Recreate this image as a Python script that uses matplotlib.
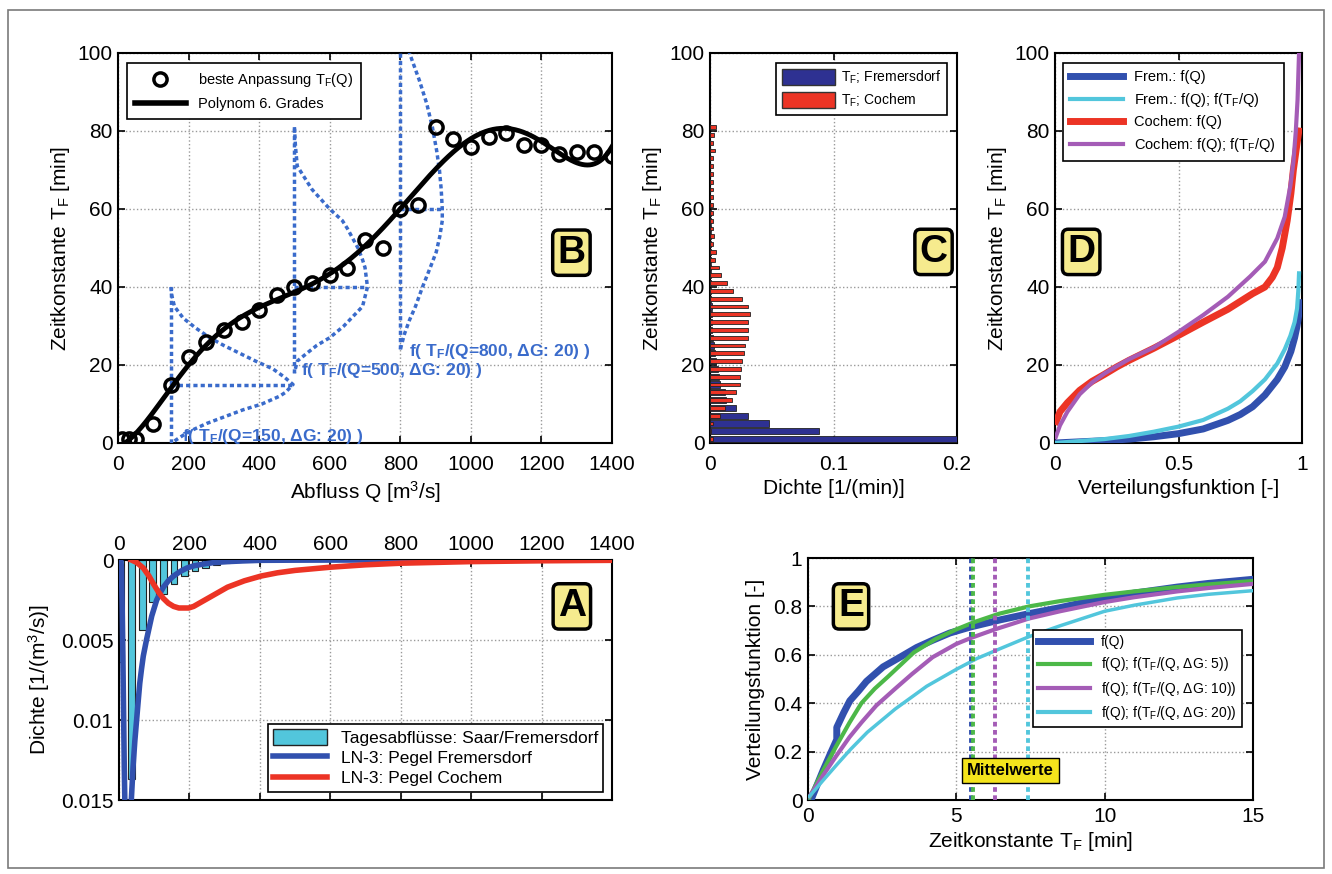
import numpy as np
import matplotlib
matplotlib.use("Agg")
import matplotlib.pyplot as plt
from matplotlib.patches import Patch, Rectangle
from matplotlib.lines import Line2D

plt.rcParams['font.family'] = ['Liberation Sans', 'DejaVu Sans']
plt.rcParams['mathtext.fontset'] = 'custom'
plt.rcParams['mathtext.rm'] = 'Liberation Sans'
plt.rcParams['mathtext.it'] = 'Liberation Sans:italic'
plt.rcParams['mathtext.bf'] = 'Liberation Sans:bold'
plt.rcParams['mathtext.default'] = 'regular'

# ---------------- Panel B data ----------------
q_points = [10, 30, 50, 100, 150, 200, 250, 300, 350, 400, 450, 500, 550, 600, 650, 700, 750,
            800, 850, 900, 950, 1000, 1050, 1100, 1150, 1200, 1250, 1300, 1350, 1400]
tf_points = [1, 1, 1, 5, 15, 22, 26, 29, 31, 34, 38, 40, 41, 43, 45, 52, 50,
             60, 61, 81, 78, 76, 78.5, 79.5, 76.5, 76.5, 74, 74.5, 74.5, 73.5]

dist150_tf = [40, 38, 35, 32, 29.5, 27, 25, 23, 21, 19, 17, 15, 13, 12, 10, 8.5, 7, 5, 3.5, 2, 1, 0]
dist150_dq = [0, 2, 10, 35, 70, 110, 150, 195, 240, 289, 320, 346, 325, 308, 258, 204, 160, 101, 65, 35, 18, 2]
dist500_tf = [81, 76, 71, 65, 60, 57, 55, 50, 47, 45, 40, 35, 30, 27, 25, 23, 21, 18]
dist500_dq = [0, 3, 8, 50, 100, 136, 150, 180, 193, 200, 207, 193, 140, 100, 63, 35, 8, 0]
dist800_tf = [110, 100, 93, 87, 81, 75, 70, 65, 60, 57, 53, 49, 45, 40, 35, 31.5, 28, 25, 24]
dist800_dq = [8, 26, 54, 75, 91, 103, 111, 116, 119, 119, 112, 102, 85, 63, 43, 26, 12, 3, 0]
dist_bases = [150, 500, 800]
dist_labels = [r'f( T$_\mathbf{F}$/(Q=150, ΔG: 20) )',
               r'f( T$_\mathbf{F}$/(Q=500, ΔG: 20) )',
               r'f( T$_\mathbf{F}$/(Q=800, ΔG: 20) )']
dist_label_pos = [(180, 0.5), (519, 17.4), (826, 22.3)]

# ---------------- Panel C data ----------------
c_bins = list(range(1, 83, 2))
c_frem = [0.25, 0.088, 0.048, 0.031, 0.021, 0.013, 0.012, 0.008, 0.0075, 0.0065, 0.005, 0.004,
          0.003, 0.0025, 0.002, 0.002, 0.0015, 0.0015, 0.001, 0.001, 0.001, 0.0008, 0.0008,
          0.0007, 0.0006, 0.0006, 0.0005, 0.0005, 0.0005, 0.0005, 0.0004, 0.0004, 0.0004,
          0.0004, 0.0003, 0.0003, 0.0003, 0.0003, 0.0003, 0.0003, 0.0002]
c_coch = [0.0027, 0.001, 0.0027, 0.008, 0.012, 0.0176, 0.021, 0.024, 0.024, 0.025, 0.026,
          0.0275, 0.028, 0.031, 0.031, 0.031, 0.0324, 0.031, 0.026, 0.019, 0.0135, 0.0089,
          0.0076, 0.004, 0.005, 0.0027, 0.0035, 0.0027, 0.0027, 0.0022, 0.0024, 0.0022,
          0.0022, 0.0022, 0.0022, 0.0027, 0.0022, 0.004, 0.0022, 0.0035, 0.0046]

# ---------------- Panel D data ----------------
d_frem_p = [0, 0.1, 0.2, 0.3, 0.4, 0.5, 0.6, 0.7, 0.75, 0.8, 0.85, 0.9, 0.93, 0.955, 0.97, 0.98, 0.987, 0.993]
d_frem_t = [0, 0.3, 0.6, 1.0, 1.6, 2.4, 3.6, 5.8, 7.3, 9.3, 12.3, 16.3, 19.5, 23.5, 27, 30, 33, 36]
d_fremg_p = [0, 0.1, 0.2, 0.3, 0.4, 0.5, 0.6, 0.7, 0.75, 0.8, 0.85, 0.9, 0.93, 0.953, 0.97, 0.98, 0.985, 0.988]
d_fremg_t = [0, 0.5, 1.0, 1.8, 2.9, 4.2, 5.9, 8.8, 10.7, 13.3, 16.3, 20.4, 24, 27.5, 31, 34.5, 39, 43.5]
d_coch_p = [0.005, 0.02, 0.05, 0.1, 0.15, 0.2, 0.25, 0.3, 0.4, 0.5, 0.6, 0.7, 0.75, 0.8, 0.85,
            0.88, 0.9, 0.92, 0.94, 0.955, 0.965, 0.978, 0.987]
d_coch_t = [5.5, 8, 10.3, 13.5, 15.8, 17.6, 19.5, 21.2, 24.3, 27.6, 31, 34.3, 36.3, 38.3, 40,
            42.5, 45, 50, 57, 64, 70, 76, 80]
d_cochg_p = [0.003, 0.02, 0.05, 0.1, 0.15, 0.2, 0.25, 0.3, 0.4, 0.5, 0.6, 0.7, 0.79, 0.85, 0.9,
             0.93, 0.953, 0.965, 0.975, 0.982, 0.988]
d_cochg_t = [1.5, 4.5, 8, 12.5, 15.5, 17.8, 19.7, 21.5, 24.5, 28.5, 32.8, 37.5, 42.7, 46.5, 52.5,
             58, 66, 72, 80, 88, 100]

# ---------------- Panel A data ----------------
a_hist_q = [6, 36, 66, 96, 126, 156, 186, 216, 246, 276, 306, 336, 366, 396]
a_hist_d = [0.0064, 0.0137, 0.0044, 0.0026, 0.0021, 0.0015, 0.0010, 0.0007, 0.0005,
            0.0003, 0.00018, 0.0001, 0.00006, 0.00003]
a_frem_q = [0, 5, 7, 9, 11, 13, 15, 16.5, 19, 22, 25, 28, 31, 35, 40, 45, 50, 55, 59, 64, 69,
            78, 86, 93, 100, 107, 116, 126, 140, 155, 175, 193, 215, 241, 270, 308, 350, 404,
            500, 700, 1000, 1400]
a_frem_d = [0, 0, 0.0005, 0.003, 0.006, 0.0095, 0.013, 0.015, 0.018, 0.0195, 0.0195, 0.018,
            0.0165, 0.015, 0.0129, 0.0113, 0.010, 0.0087, 0.0077, 0.0068, 0.006, 0.005, 0.0042,
            0.0035, 0.003, 0.0025, 0.0021, 0.0017, 0.0013, 0.001, 0.0007, 0.0005, 0.00035,
            0.00025, 0.00016, 0.0001, 0.00006, 0.00002, 0.00001, 0, 0, 0]
a_coch_q = [35, 50, 69, 85, 98, 112, 126, 140, 155, 170, 184, 198, 212, 236, 260, 284, 308,
            332, 356, 404, 450, 500, 600, 700, 800, 1000, 1200, 1400]
a_coch_d = [0, 0.00015, 0.0005, 0.001, 0.0015, 0.002, 0.0024, 0.0027, 0.0029, 0.003, 0.003,
            0.003, 0.0029, 0.0026, 0.0023, 0.002, 0.0017, 0.0015, 0.0013, 0.001, 0.0008,
            0.00065, 0.00045, 0.0003, 0.0002, 0.0001, 0.00005, 0.00002]

# ---------------- Panel E data ----------------
e_q_x = [0.1, 0.3, 0.5, 0.75, 0.97, 0.97, 1.2, 1.41, 1.7, 1.97, 2.53, 3.1, 3.66, 4.2, 4.78,
         5.48, 6.5, 7.45, 8.5, 10, 11, 12.45, 13.5, 15]
e_q_y = [0, 0.06, 0.12, 0.19, 0.25, 0.30, 0.36, 0.41, 0.45, 0.49, 0.55, 0.59, 0.63, 0.66,
         0.69, 0.715, 0.745, 0.77, 0.795, 0.835, 0.855, 0.88, 0.895, 0.912]
e_g5_x = [0.05, 0.5, 0.94, 1.4, 1.8, 2.25, 2.7, 3.57, 4.3, 5, 5.6, 6.45, 7.45, 8.5, 10, 11,
          12.45, 13.5, 15]
e_g5_y = [0.01, 0.12, 0.22, 0.32, 0.40, 0.46, 0.51, 0.61, 0.665, 0.705, 0.735, 0.77, 0.80,
          0.822, 0.848, 0.862, 0.88, 0.891, 0.905]
e_g10_x = [0.05, 0.5, 0.94, 1.4, 1.8, 2.3, 2.94, 3.5, 4.2, 5, 5.5, 6.3, 7.45, 8.5, 10, 11,
           12.45, 13.5, 15]
e_g10_y = [0.015, 0.1, 0.18, 0.26, 0.32, 0.39, 0.46, 0.52, 0.59, 0.645, 0.67, 0.705, 0.75,
           0.78, 0.818, 0.838, 0.862, 0.876, 0.893]
e_g20_x = [0.05, 0.5, 1, 1.44, 2, 2.94, 4, 5, 5.7, 6.45, 7.45, 8.5, 10, 11, 12.45, 13.5, 15]
e_g20_y = [0.015, 0.08, 0.15, 0.21, 0.28, 0.376, 0.47, 0.54, 0.585, 0.624, 0.675, 0.72, 0.78,
           0.805, 0.835, 0.85, 0.865]
e_means = [5.48, 5.57, 6.3, 7.43]

# ---------------- Styling ----------------
C_NAVY = '#2e3192'
C_RED = '#ec3425'
C_BLUE = '#3150ae'
C_CYAN = '#52c6dc'
C_PURPLE = '#a45cb6'
C_GREEN = '#4cb848'
C_DIST = '#3a6bcb'
C_YEL = '#f6eb8e'
FS = 15

fig = plt.figure(figsize=(13.32, 8.74), dpi=100)
W, H = 1332.0, 874.0


def add_ax(x0, x1, y0, y1):
    return fig.add_axes([x0 / W, 1 - y1 / H, (x1 - x0) / W, (y1 - y0) / H])


def style(ax, xpad=9):
    ax.grid(True, linestyle=':', color='#9a9a9a', linewidth=1.0)
    ax.set_axisbelow(True)
    for s in ax.spines.values():
        s.set_linewidth(1.5)
    ax.tick_params(direction='in', top=True, right=True, length=5, width=1.2,
                   labelsize=FS, pad=4)
    ax.tick_params(axis='x', pad=xpad)


def label_box(ax, x, y, s):
    ax.text(x, y, s, fontsize=28, fontweight='bold', ha='center', va='center', zorder=20,
            bbox=dict(boxstyle='round,pad=0.12,rounding_size=0.15', fc=C_YEL, ec='black', lw=2.5))


def leg(ax, handles, labels, fs, **kw):
    lg = ax.legend(handles, labels, fontsize=fs, frameon=True, fancybox=False, framealpha=1,
                   edgecolor='black', borderaxespad=0, **kw)
    lg.get_frame().set_linewidth(1.2)
    lg.set_zorder(30)
    return lg


# ---------------- Panel B ----------------
axB = add_ax(118, 612, 53, 443)
style(axB)
coef = np.polyfit(np.array(q_points) / 1000.0, tf_points, 6)
qq = np.linspace(0, 1400, 400)
axB.plot(qq, np.polyval(coef, qq / 1000.0), color='black', lw=3.5, zorder=4)
axB.plot(q_points, tf_points, 'o', mfc='none', mec='black', mew=2.5, ms=9.5, zorder=5)
for base, dtf, ddq, lab, pos in zip(dist_bases, [dist150_tf, dist500_tf, dist800_tf],
                                    [dist150_dq, dist500_dq, dist800_dq], dist_labels,
                                    dist_label_pos):
    dq = np.array(ddq)
    tf = np.array(dtf)
    axB.plot(base + dq, tf, color=C_DIST, ls=(0, (1.2, 0.9)), lw=2.5, zorder=3)
    axB.plot([base, base], [min(tf), max(tf)], color=C_DIST, ls=(0, (1.2, 0.9)), lw=2.5, zorder=3)
    imax = int(np.argmax(dq))
    axB.plot([base, base + dq[imax]], [tf[imax], tf[imax]], color=C_DIST, ls=(0, (1.2, 0.9)),
             lw=2.5, zorder=3)
    axB.text(pos[0], pos[1], lab, color=C_DIST, fontsize=12.5, fontweight='bold',
             ha='left', va='baseline', zorder=6)
axB.set_xlim(0, 1400)
axB.set_ylim(0, 100)
axB.set_xticks(range(0, 1401, 200))
axB.set_yticks(range(0, 101, 20))
axB.set_xlabel('Abfluss Q [m$^3$/s]', fontsize=FS, labelpad=3)
axB.set_ylabel('Zeitkonstante T$_F$ [min]', fontsize=FS, labelpad=4)
label_box(axB, 1285, 48.8, 'B')
hB = [Line2D([], [], ls='none', marker='o', mfc='none', mec='black', mew=2.5, ms=9.5),
      Line2D([], [], color='black', lw=4)]
leg(axB, hB, ['beste Anpassung T$_F$(Q)', 'Polynom 6. Grades'], 10.5,
    loc='upper left', bbox_to_anchor=(0.018, 0.975), handlelength=3.5, borderpad=0.55,
    labelspacing=0.55)

# ---------------- Panel C ----------------
axC = add_ax(710, 957, 53, 443)
style(axC)
axC.barh(c_bins, c_frem, height=1.6, color=C_NAVY, edgecolor='#222222', lw=0.6, zorder=3)
axC.barh(c_bins, c_coch, height=1.0, color=C_RED, edgecolor='#222222', lw=0.6, zorder=4)
axC.set_xlim(0, 0.2)
axC.set_ylim(0, 100)
axC.set_xticks([0, 0.1, 0.2])
axC.set_xticklabels(['0', '0.1', '0.2'])
axC.set_yticks(range(0, 101, 20))
axC.set_xlabel('Dichte [1/(min)]', fontsize=FS, labelpad=3)
axC.set_ylabel('Zeitkonstante T$_F$ [min]', fontsize=FS, labelpad=4)
label_box(axC, 0.181, 49, 'C')
hC = [Patch(fc=C_NAVY, ec='#333333'), Patch(fc=C_RED, ec='#333333')]
leg(axC, hC, ['T$_F$; Fremersdorf', 'T$_F$; Cochem'], 10,
    loc='upper right', bbox_to_anchor=(0.96, 0.975), handlelength=3.8, handleheight=1.4,
    borderpad=0.45, labelspacing=0.35, handletextpad=0.4)

# ---------------- Panel D ----------------
axD = add_ax(1055, 1302, 53, 443)
style(axD)
axD.plot(d_frem_p, d_frem_t, color=C_BLUE, lw=5, zorder=3)
axD.plot(d_fremg_p, d_fremg_t, color=C_CYAN, lw=3, zorder=4)
axD.plot(d_coch_p, d_coch_t, color=C_RED, lw=5, zorder=3)
axD.plot(d_cochg_p, d_cochg_t, color=C_PURPLE, lw=3, zorder=4)
axD.set_xlim(0, 1)
axD.set_ylim(0, 100)
axD.set_xticks([0, 0.5, 1])
axD.set_xticklabels(['0', '0.5', '1'])
axD.set_yticks(range(0, 101, 20))
axD.set_xlabel('Verteilungsfunktion [-]', fontsize=FS, labelpad=3)
axD.set_ylabel('Zeitkonstante T$_F$ [min]', fontsize=FS, labelpad=4)
label_box(axD, 0.106, 49, 'D')
hD = [Line2D([], [], color=C_BLUE, lw=5), Line2D([], [], color=C_CYAN, lw=3),
      Line2D([], [], color=C_RED, lw=5), Line2D([], [], color=C_PURPLE, lw=3)]
leg(axD, hD, ['Frem.: f(Q)', 'Frem.: f(Q); f(T$_F$/Q)', 'Cochem: f(Q)',
              'Cochem: f(Q); f(T$_F$/Q)'], 10.5,
    loc='upper left', bbox_to_anchor=(0.032, 0.975), handlelength=3.6, borderpad=0.5,
    labelspacing=0.45)

# ---------------- Panel A ----------------
axA = add_ax(119, 612, 560, 800)
style(axA, xpad=4)
axA.bar(a_hist_q, a_hist_d, width=19, color=C_CYAN, edgecolor='#222222', lw=0.8, zorder=2)
axA.plot(a_frem_q, a_frem_d, color=C_BLUE, lw=4, zorder=4)
axA.plot(a_coch_q, a_coch_d, color=C_RED, lw=4, zorder=4)
axA.set_xlim(0, 1400)
axA.set_ylim(0.015, 0)
axA.set_xticks(range(0, 1401, 200))
axA.set_yticks([0, 0.005, 0.01, 0.015])
axA.set_yticklabels(['0', '0.005', '0.01', '0.015'])
axA.tick_params(labeltop=True, labelbottom=False)
axA.set_ylabel('Dichte [1/(m$^3$/s)]', fontsize=FS, labelpad=6)
label_box(axA, 1286, 0.0029, 'A')
hA = [Patch(fc=C_CYAN, ec='#222222'), Line2D([], [], color=C_BLUE, lw=4),
      Line2D([], [], color=C_RED, lw=4)]
leg(axA, hA, ['Tagesabflüsse: Saar/Fremersdorf', 'LN-3: Pegel Fremersdorf',
              'LN-3: Pegel Cochem'], 12.5,
    loc='lower right', bbox_to_anchor=(0.982, 0.035), handlelength=3.1, handleheight=1.0,
    borderpad=0.3, labelspacing=0.2)

# ---------------- Panel E ----------------
axE = add_ax(808, 1253, 558, 800)
style(axE, xpad=5)
axE.plot(e_q_x, e_q_y, color=C_BLUE, lw=5, zorder=3)
axE.plot(e_g5_x, e_g5_y, color=C_GREEN, lw=3, zorder=4)
axE.plot(e_g10_x, e_g10_y, color=C_PURPLE, lw=3, zorder=4)
axE.plot(e_g20_x, e_g20_y, color=C_CYAN, lw=2.5, zorder=4)
for xm, col in zip(e_means, [C_BLUE, C_GREEN, C_PURPLE, C_CYAN]):
    axE.axvline(xm, color=col, ls=(0, (1.2, 0.9)), lw=2.8, zorder=5)
axE.text(5.36, 0.12, 'Mittelwerte', fontsize=12, ha='left', va='center', zorder=8,
         family=['Liberation Sans Narrow', 'Liberation Sans'], fontweight='bold',
         bbox=dict(boxstyle='square,pad=0.3', fc='#f4e41c', ec='black', lw=1.0))
axE.set_xlim(0, 15)
axE.set_ylim(0, 1)
axE.set_xticks([0, 5, 10, 15])
axE.set_yticks([0, 0.2, 0.4, 0.6, 0.8, 1])
axE.set_yticklabels(['0', '0.2', '0.4', '0.6', '0.8', '1'])
axE.set_xlabel('Zeitkonstante T$_F$ [min]', fontsize=FS, labelpad=3)
axE.set_ylabel('Verteilungsfunktion [-]', fontsize=FS, labelpad=6)
label_box(axE, 1.45, 0.8, 'E')
hE = [Line2D([], [], color=C_BLUE, lw=5), Line2D([], [], color=C_GREEN, lw=3),
      Line2D([], [], color=C_PURPLE, lw=3), Line2D([], [], color=C_CYAN, lw=3)]
leg(axE, hE, ['f(Q)', 'f(Q); f(T$_F$/(Q, ΔG: 5))', 'f(Q); f(T$_F$/(Q, ΔG: 10))',
              'f(Q); f(T$_F$/(Q, ΔG: 20))'], 10,
    loc='upper right', bbox_to_anchor=(0.975, 0.704), handlelength=3.7, borderpad=0.4,
    labelspacing=0.45)

# outer frame
fig.patches.append(Rectangle((8 / W, 1 - 868 / H), (1324 - 8) / W, (868 - 10) / H,
                             transform=fig.transFigure, fill=False, ec='#7a7a7a', lw=1.2))

fig.savefig('out.png', dpi=100)
